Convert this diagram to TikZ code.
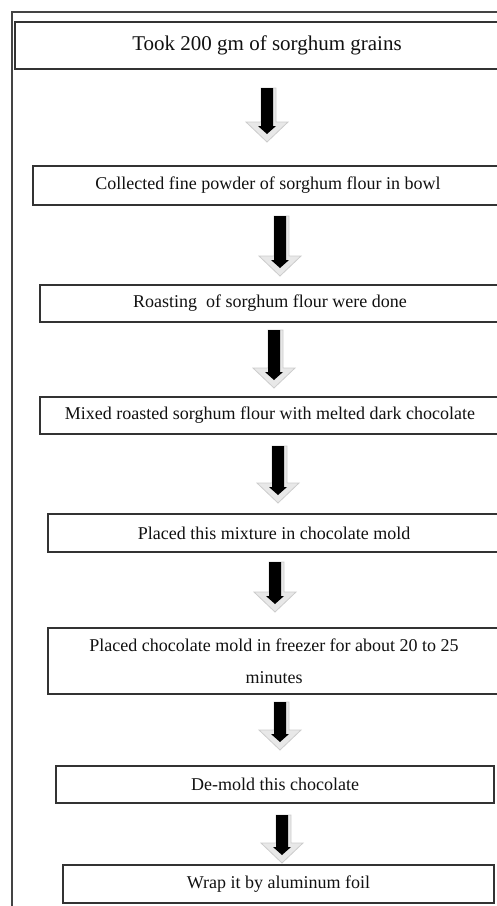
\documentclass[tikz,border=0pt]{standalone}
\usepackage{fontspec}
\setmainfont{Liberation Serif}
\usetikzlibrary{calc}
\definecolor{boxline}{HTML}{333333}
\definecolor{frameline}{HTML}{444444}
\definecolor{txt}{HTML}{111111}
\newcommand\flowarrow[2]{%
  \filldraw[fill=gray!18, draw=gray!40, line width=0.8pt]
    ($(#1)+(-6,0)$) -- ($(#1)+(9,0)$) -- ($(#2)+(9,-20)$) -- ($(#2)+(21,-20)$)
    -- (#2) -- ($(#2)+(-21,-20)$) -- ($(#2)+(-6,-20)$) -- cycle;
  \fill[black]
    ($(#1)+(-6,0)$) -- ($(#1)+(6,0)$) -- ($(#2)+(6,-16)$) -- ($(#2)+(9,-16)$)
    -- ($(#2)+(0,-8)$) -- ($(#2)+(-9,-16)$) -- ($(#2)+(-6,-16)$) -- cycle;
}
\tikzset{
  box/.style={draw=boxline, line width=1.4pt, fill=white, inner sep=0pt,
    text=txt, align=center, font=\fontsize{18}{32}\selectfont},
}
\begin{document}
\begin{tikzpicture}[x=1pt, y=-1pt]
\useasboundingbox (0,0) rectangle (497,906);
\clip (0,0) rectangle (497,906);
\fill[white] (0,0) rectangle (497,906);
% outer frame
\draw[frameline, line width=1.2pt] (12,910) -- (12,12) -- (520,12);
% boxes
\node[box, minimum width=504pt, minimum height=47pt, font=\fontsize{21}{25}\selectfont] (b1) at (267,45.5) {Took 200 gm of sorghum grains};
\node[box, minimum width=470pt, minimum height=39pt] (b2) at (268,185.5) {Collected fine powder of sorghum flour in bowl};
\node[box, minimum width=460pt, minimum height=37pt] (b3) at (270,303.5) {Roasting~ of sorghum flour were done};
\node[box, minimum width=460pt, minimum height=37pt] (b4) at (270,415.5) {Mixed roasted sorghum flour with melted dark chocolate};
\node[box, minimum width=452pt, minimum height=38pt] (b5) at (274,533) {Placed this mixture in chocolate mold};
\node[box, minimum width=452pt, minimum height=66pt] (b6) at (274,661) {Placed chocolate mold in freezer for about 20 to 25\\minutes};
\node[box, minimum width=438pt, minimum height=37pt] (b7) at (275,784.5) {De-mold this chocolate};
\node[box, minimum width=431pt, minimum height=38pt] (b8) at (278.5,884) {Wrap it by aluminum foil};
% arrow end points
\coordinate (a1t) at (267,88);  \coordinate (a1b) at (267,142);
\coordinate (a2t) at (280,216); \coordinate (a2b) at (280,276);
\coordinate (a3t) at (274,330); \coordinate (a3b) at (274,388);
\coordinate (a4t) at (278,446); \coordinate (a4b) at (278,503);
\coordinate (a5t) at (275,562); \coordinate (a5b) at (275,612);
\coordinate (a6t) at (280,702); \coordinate (a6b) at (280,750);
\coordinate (a7t) at (282,815); \coordinate (a7b) at (282,863);
\flowarrow{a1t}{a1b}
\flowarrow{a2t}{a2b}
\flowarrow{a3t}{a3b}
\flowarrow{a4t}{a4b}
\flowarrow{a5t}{a5b}
\flowarrow{a6t}{a6b}
\flowarrow{a7t}{a7b}
\end{tikzpicture}
\end{document}
